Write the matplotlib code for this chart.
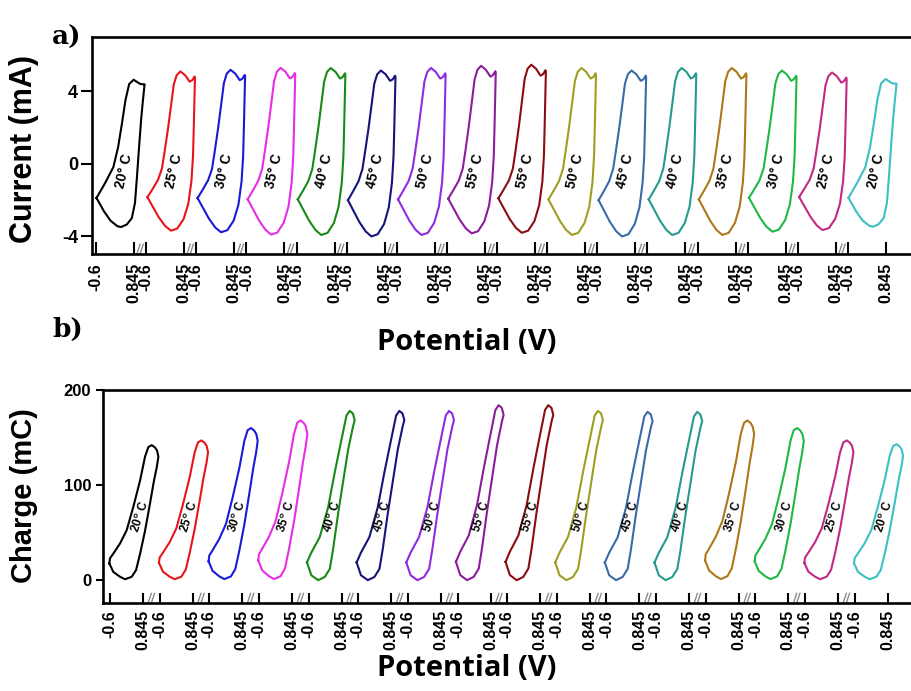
import numpy as np
import matplotlib
matplotlib.use("Agg")
import matplotlib.pyplot as plt
from matplotlib import transforms

plt.rcParams["font.family"] = ["Liberation Sans", "DejaVu Sans"]
plt.rcParams["font.weight"] = "bold"
plt.rcParams["mathtext.fontset"] = "custom"
plt.rcParams["mathtext.rm"] = "Liberation Sans:bold"
plt.rcParams["mathtext.bf"] = "Liberation Sans:bold"

# ---- runs: heating 20 -> 55 C, then cooling back to 20 C ----
temperatures = [20, 25, 30, 35, 40, 45, 50, 55, 55, 50, 45, 40, 35, 30, 25, 20]
loop_colors = ["#000000", "#e8141c", "#1a1ad6", "#e62ee6", "#178a17", "#14147a",
               "#8f2be0", "#8c1c9c", "#8a0e10", "#9e9e22", "#3b6aa8", "#269a8c",
               "#ae7718", "#20b845", "#c02a86", "#3cc0c4"]

# anodic peak / cathodic minimum current of each run (mA)
peak_current = [4.64, 5.10, 5.19, 5.30, 5.29, 5.15, 5.29, 5.41,
                5.47, 5.29, 5.15, 5.29, 5.29, 5.15, 5.04, 4.68]
min_current = [-3.48, -3.68, -3.77, -3.90, -3.92, -4.00, -3.92, -3.83,
               -3.80, -3.92, -4.00, -3.92, -3.92, -3.74, -3.65, -3.46]

# maximum accumulated charge of each run (mC)
max_charge = [142, 147, 160, 168, 178, 178, 178, 184,
              184, 178, 177, 177, 168, 160, 147, 143]

# voltammogram outlines: potential (V) and current relative to the run's extremes
cv_potential_cool = [-0.58, -0.30, -0.05, 0.22, 0.36, 0.57, 0.76, 0.88, 0.96, 1.04,
                     1.12, 1.19, 1.24, 1.25, 1.08, 0.83, 0.66, 0.52, 0.38, 0.24,
                     0.06, -0.25, -0.58]
cv_profile_cool = [-0.54, -0.75, -0.90, -0.99, -1.00, -0.96, -0.86, -0.62, -0.18, 0.22,
                   0.55, 0.78, 0.93, 0.945, 0.95, 1.00, 0.95, 0.76, 0.47, 0.20,
                   -0.05, -0.30, -0.54]
cv_potential_warm = [-0.55, -0.35, -0.12, 0.12, 0.34, 0.58, 0.82, 1.00, 1.12, 1.18,
                     1.21, 1.235, 1.255, 1.24, 1.15, 1.05, 0.88, 0.70, 0.56, 0.45,
                     0.35, 0.23, 0.10, 0.0, -0.15, -0.36, -0.55]
cv_profile_warm = [-0.50, -0.64, -0.80, -0.93, -1.00, -0.97, -0.83, -0.60, -0.26, 0.08,
                   0.40, 0.70, 0.93, 0.945, 0.905, 0.89, 0.96, 1.00, 0.96, 0.86,
                   0.64, 0.38, 0.13, -0.07, -0.24, -0.38, -0.50]

# charge outlines: potential (V) and charge relative to the run's maximum
q_potential_cool = [-0.63, -0.455, -0.16, 0.06, 0.35, 0.54, 0.72, 0.935, 1.154, 1.33,
                    1.45, 1.52, 1.46, 1.37, 1.23, 1.08, 0.935, 0.72, 0.42, 0.13,
                    -0.16, -0.455, -0.60, -0.63]
q_profile_cool = [0.124, 0.061, 0.025, 0.007, 0.025, 0.074, 0.197, 0.366, 0.57, 0.74,
                  0.838, 0.915, 0.96, 0.983, 1.00, 0.986, 0.915, 0.74, 0.542, 0.37,
                  0.272, 0.197, 0.162, 0.124]
q_potential_warm = [-0.67, -0.48, -0.18, 0.11, 0.33, 0.47, 0.69, 0.91, 1.13, 1.35,
                    1.42, 1.34, 1.20, 1.06, 0.84, 0.55, 0.255, -0.11, -0.48, -0.67]
q_profile_warm = [0.105, 0.029, 0.0, 0.019, 0.067, 0.18, 0.39, 0.58, 0.77, 0.91,
                  0.945, 0.985, 1.00, 0.973, 0.83, 0.64, 0.43, 0.255, 0.163, 0.105]

tick_values = ["-0.6", "0.845"]
V_LOW, V_HIGH = -0.6, 0.845

fig = plt.figure(figsize=(9.12, 6.91), dpi=100)
W, H = 912, 691


def px_axes(left, top, right, bottom):
    return fig.add_axes([left / W, 1 - bottom / H, (right - left) / W, (bottom - top) / H])


def style_broken_axis(ax, seg, n, tick_len, tick_pad, slash_dx, slash_h):
    ax.spines["right"].set_visible(False)
    for s in ["left", "top", "bottom"]:
        ax.spines[s].set_linewidth(1.9)
    ticks, labels = [], []
    for i in range(n):
        off = i * seg
        ticks += [off, off + (V_HIGH - V_LOW)]
        labels += tick_values
    ax.set_xticks(ticks)
    ax.set_xticklabels(labels, rotation=90, fontsize=11.5, fontweight="bold")
    ax.tick_params(axis="x", direction="in", length=tick_len, width=1.5, pad=tick_pad)
    # axis-break marks between segments
    trans = transforms.blended_transform_factory(ax.transData, ax.transAxes)
    for i in range(n - 1):
        xc = i * seg + (V_HIGH - V_LOW) + (seg - (V_HIGH - V_LOW)) / 2
        for d in (-slash_dx, slash_dx):
            ax.plot([xc + d - slash_dx, xc + d + slash_dx], [0.0, slash_h],
                    color="#8c8c8c", lw=1.0, transform=trans, clip_on=False)


# ---------------- a) current ----------------
SEG_A = 1.904
axA = px_axes(92, 37, 913, 254)
for i, t in enumerate(temperatures):
    off = i * SEG_A
    if t <= 20:
        pot, prof = np.array(cv_potential_cool), np.array(cv_profile_cool)
    else:
        pot, prof = np.array(cv_potential_warm), np.array(cv_profile_warm)
    cur = np.where(prof > 0, prof * peak_current[i], -prof * min_current[i])
    axA.plot(off + pot - V_LOW, cur, color=loop_colors[i], lw=1.5, solid_joinstyle="round")
    axA.text(off + 0.46 - V_LOW, -0.40, f"{t}° C", rotation=77, rotation_mode="anchor",
             ha="center", va="center", fontsize=10, fontweight="bold")
axA.set_xlim(-0.152, 31.03)
axA.set_ylim(-4.97, 7.0)
axA.set_yticks([-4, 0, 4])
axA.set_yticklabels(["-4", "0", "4"], fontsize=13, fontweight="bold")
axA.tick_params(axis="y", direction="out", length=8, width=1.5, pad=2)
style_broken_axis(axA, SEG_A, 16, 8.6, 6.5, 0.06, 0.045)

# ---------------- b) charge ----------------
SEG_B = 2.175
axB = px_axes(103, 390, 913, 603)
for i, t in enumerate(temperatures):
    off = i * SEG_B
    if t <= 35:
        v, prof = np.array(q_potential_cool), np.array(q_profile_cool)
    else:
        v, prof = np.array(q_potential_warm), np.array(q_profile_warm)
    q = prof * max_charge[i]
    axB.plot(off + v - V_LOW, q, color=loop_colors[i], lw=1.5, solid_joinstyle="round")
    # label sits midway across the loop at a fixed charge level
    top = int(np.argmax(q))
    bot = int(np.argmin(q))
    q_lab = 67
    v_right = np.interp(q_lab, q[bot:top + 1], v[bot:top + 1])
    v_left = np.interp(q_lab, q[top:][::-1], v[top:][::-1])
    axB.text(off + (v_left + v_right) / 2 + 0.05 - V_LOW, q_lab, rf"$\mathbf{{{t}^o\ C}}$",
             rotation=72, rotation_mode="anchor", ha="center", va="center", fontsize=8.5)
axB.set_xlim(-0.307, 35.18)
axB.set_ylim(-24, 200)
axB.set_yticks([0, 100, 200])
axB.set_yticklabels(["0", "100", "200"], fontsize=12, fontweight="bold")
axB.tick_params(axis="y", direction="out", length=5, width=1.5, pad=3.5)
style_broken_axis(axB, SEG_B, 16, 7.2, 5, 0.07, 0.045)

# ---------------- labels ----------------
fig.text(24 / W, 1 - 149 / H, "Current (mA)", rotation=90, ha="center", va="center",
         fontsize=22, fontweight="bold")
fig.text(24 / W, 1 - 496 / H, "Charge (mC)", rotation=90, ha="center", va="center",
         fontsize=21, fontweight="bold")
for yc in (343, 669):
    fig.text(467 / W, 1 - yc / H, "Potential (V)", ha="center", va="center",
             fontsize=21, fontweight="bold", family="Open Sans")
fig.text(52 / W, 1 - 45 / H, "a)", ha="left", va="baseline", fontsize=19,
         fontweight="bold", family="DejaVu Serif")
fig.text(52 / W, 1 - 337 / H, "b)", ha="left", va="baseline", fontsize=19,
         fontweight="bold", family="DejaVu Serif")

fig.savefig("out.png", dpi=100)
